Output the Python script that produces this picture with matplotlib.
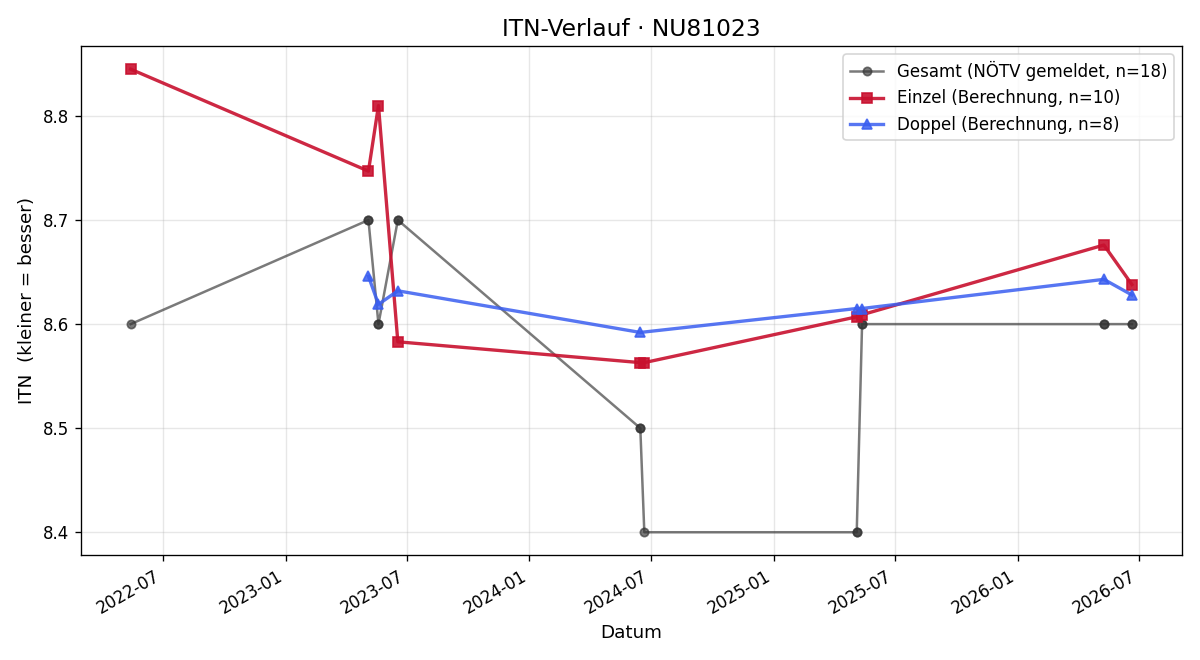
import matplotlib
matplotlib.use("Agg")
import matplotlib.pyplot as plt
import matplotlib.dates as mdates
import pandas as pd

# Gesamt (reported), one entry per match
gesamt_dates = ["2022-05-14", "2023-05-05", "2023-05-05", "2023-05-20", "2023-05-20",
                "2023-06-18", "2023-06-18", "2024-06-15", "2024-06-15", "2024-06-21",
                "2025-05-05", "2025-05-05", "2025-05-13", "2025-05-13",
                "2026-05-10", "2026-05-10", "2026-06-21", "2026-06-21"]
gesamt_vals = [8.6, 8.7, 8.7, 8.6, 8.6, 8.7, 8.7, 8.5, 8.5, 8.4,
               8.4, 8.4, 8.6, 8.6, 8.6, 8.6, 8.6, 8.6]

einzel_dates = ["2022-05-14", "2023-05-05", "2023-05-20", "2023-06-18", "2024-06-15",
                "2024-06-21", "2025-05-05", "2025-05-13", "2026-05-10", "2026-06-21"]
einzel_vals = [8.845, 8.747, 8.810, 8.583, 8.563, 8.563, 8.607, 8.609, 8.676, 8.638]

doppel_dates = ["2023-05-05", "2023-05-20", "2023-06-18", "2024-06-15",
                "2025-05-05", "2025-05-13", "2026-05-10", "2026-06-21"]
doppel_vals = [8.646, 8.619, 8.632, 8.592, 8.615, 8.615, 8.643, 8.628]

fig, ax = plt.subplots(figsize=(10, 5.5), dpi=120)

ax.plot(pd.to_datetime(gesamt_dates), gesamt_vals, marker="o", color="#333333",
        alpha=0.65, linewidth=1.5, markersize=5,
        label=f"Gesamt (NÖTV gemeldet, n={len(gesamt_vals)})")
ax.plot(pd.to_datetime(einzel_dates), einzel_vals, marker="s", color="#c8102e",
        alpha=0.9, linewidth=2, markersize=6,
        label=f"Einzel (Berechnung, n={len(einzel_vals)})")
ax.plot(pd.to_datetime(doppel_dates), doppel_vals, marker="^", color="#3a5ef0",
        alpha=0.85, linewidth=2, markersize=6,
        label=f"Doppel (Berechnung, n={len(doppel_vals)})")

ax.set_title("ITN-Verlauf · NU81023", fontsize=14)
ax.set_xlabel("Datum", fontsize=11)
ax.set_ylabel("ITN  (kleiner = besser)", fontsize=11)
ax.grid(True, alpha=0.3)
ax.xaxis.set_major_locator(mdates.MonthLocator(bymonth=[1, 7]))
ax.xaxis.set_major_formatter(mdates.DateFormatter("%Y-%m"))
ax.legend(loc="upper right", fontsize=10)
fig.autofmt_xdate()
fig.tight_layout()
fig.savefig("out.png")
